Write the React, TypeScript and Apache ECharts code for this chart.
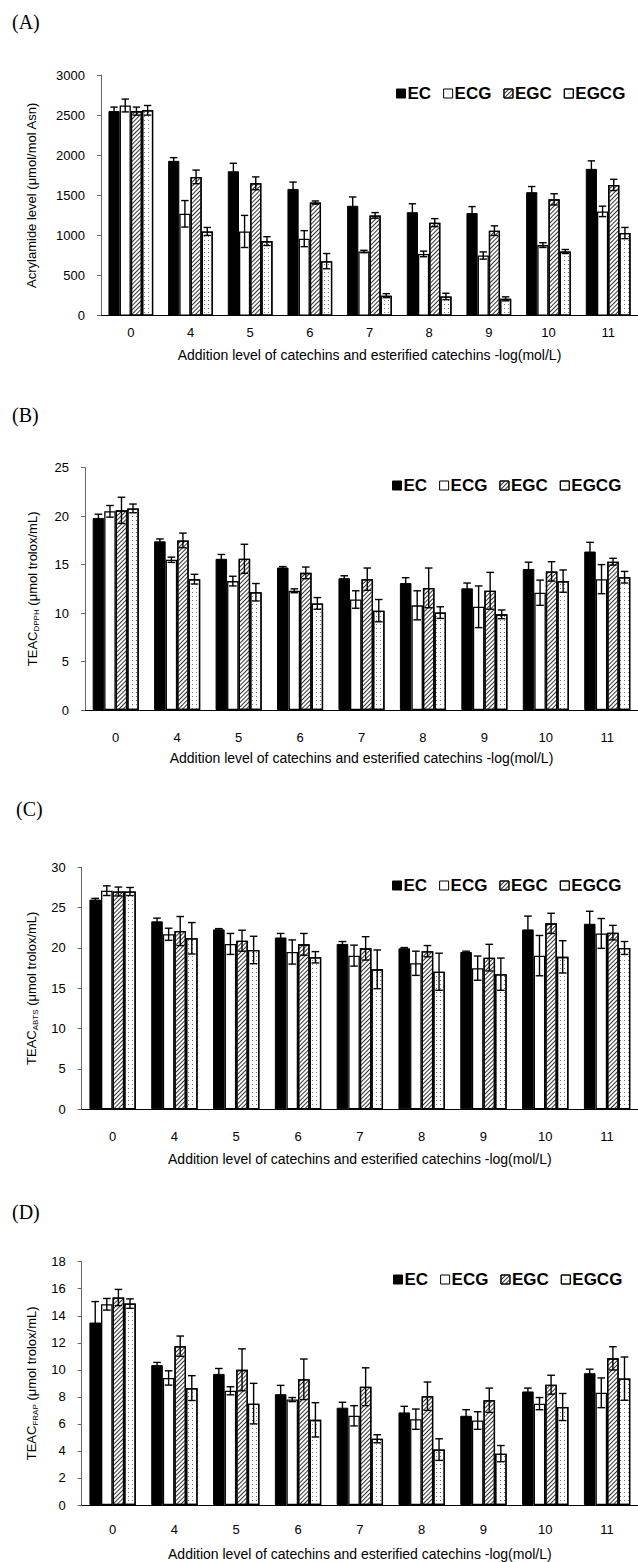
import React, { useEffect, useRef } from 'react';
import * as echarts from 'echarts';

const categories = ['0', '4', '5', '6', '7', '8', '9', '10', '11'];
const seriesNames = ['EC', 'ECG', 'EGC', 'EGCG'];
const panelLabels = ['(A)', '(B)', '(C)', '(D)'];
const xAxisTitle = 'Addition level of catechins and esterified catechins -log(mol/L)';
const yAxisTitles = [
  'Acrylamide level (μmol/mol Asn)',
  '{m|TEAC}{s|DPPH}{m| (μmol trolox/mL)}',
  '{m|TEAC}{s|ABTS}{m| (μmol trolox/mL)}',
  '{m|TEAC}{s|FRAP}{m| (μmol trolox/mL)}',
];
const yMax = [3000, 25, 30, 18];
const yInterval = [500, 5, 5, 2];

// (A) Acrylamide level
const acrylEC = [2550, 1930, 1800, 1580, 1370, 1290, 1280, 1540, 1830];
const acrylECErr = [50, 40, 100, 85, 110, 105, 80, 70, 100];
const acrylECG = [2620, 1270, 1050, 960, 800, 770, 750, 880, 1300];
const acrylECGErr = [80, 165, 200, 100, 15, 35, 45, 30, 65];
const acrylEGC = [2550, 1730, 1650, 1410, 1250, 1160, 1060, 1450, 1630];
const acrylEGCErr = [50, 85, 80, 20, 35, 50, 60, 70, 70];
const acrylEGCG = [2560, 1050, 930, 680, 250, 240, 210, 800, 1030];
const acrylEGCGErr = [60, 50, 55, 95, 25, 40, 25, 25, 70];

// (B) TEAC DPPH
const dpphEC = [19.8, 17.4, 15.6, 14.7, 13.6, 13.1, 12.55, 14.55, 16.35];
const dpphECErr = [0.4, 0.25, 0.45, 0.1, 0.25, 0.55, 0.55, 0.7, 0.95];
const dpphECG = [20.5, 15.5, 13.3, 12.3, 11.4, 10.8, 10.65, 12.1, 13.5];
const dpphECGErr = [0.6, 0.27, 0.5, 0.2, 0.9, 1.5, 2.15, 1.3, 1.5];
const dpphEGC = [20.6, 17.5, 15.6, 14.15, 13.5, 12.6, 12.3, 14.3, 15.3];
const dpphEGCErr = [1.35, 0.75, 1.5, 0.6, 1.15, 2.05, 1.9, 1.0, 0.35];
const dpphEGCG = [20.8, 13.5, 12.15, 11.0, 10.25, 10.05, 9.87, 13.3, 13.7];
const dpphEGCGErr = [0.45, 0.5, 0.9, 0.6, 1.15, 0.6, 0.45, 1.15, 0.6];

// (C) TEAC ABTS
const abtsEC = [26.0, 23.3, 22.3, 21.3, 20.5, 19.95, 19.5, 22.3, 23.0];
const abtsECErr = [0.15, 0.4, 0.1, 0.5, 0.3, 0.1, 0.1, 1.65, 1.55];
const abtsECG = [27.1, 21.7, 20.5, 19.5, 19.05, 18.1, 17.5, 19.05, 21.8];
const abtsECGErr = [0.6, 0.75, 1.3, 1.5, 1.3, 1.5, 1.5, 2.5, 1.85];
const abtsEGC = [27.0, 22.1, 20.9, 20.45, 19.95, 19.6, 18.8, 23.05, 21.9];
const abtsEGCErr = [0.55, 1.8, 1.3, 1.35, 1.45, 0.7, 1.65, 1.25, 0.9];
const abtsEGCG = [27.0, 21.2, 19.75, 18.85, 17.35, 17.05, 16.75, 18.9, 20.0];
const abtsEGCGErr = [0.5, 1.95, 1.7, 0.7, 2.4, 2.3, 2.0, 2.0, 0.8];

// (D) TEAC FRAP
const frapEC = [13.5, 10.35, 9.7, 8.2, 7.2, 6.85, 6.6, 8.4, 9.75];
const frapECErr = [1.55, 0.2, 0.4, 0.65, 0.4, 0.45, 0.45, 0.25, 0.3];
const frapECG = [14.85, 9.4, 8.45, 7.8, 6.6, 6.35, 6.25, 7.5, 8.3];
const frapECGErr = [0.43, 0.53, 0.3, 0.15, 0.75, 0.75, 0.65, 0.45, 1.1];
const frapEGC = [15.35, 11.75, 10.0, 9.3, 8.75, 8.05, 7.75, 8.9, 10.85];
const frapEGCErr = [0.6, 0.75, 1.55, 1.5, 1.4, 1.05, 0.9, 0.7, 0.86];
const frapEGCG = [14.9, 8.65, 7.5, 6.3, 4.9, 4.1, 3.8, 7.25, 9.35];
const frapEGCGErr = [0.35, 0.92, 1.5, 1.27, 0.3, 0.8, 0.6, 1.0, 1.6];

const panelValues = [
  [acrylEC, acrylECG, acrylEGC, acrylEGCG],
  [dpphEC, dpphECG, dpphEGC, dpphEGCG],
  [abtsEC, abtsECG, abtsEGC, abtsEGCG],
  [frapEC, frapECG, frapEGC, frapEGCG],
];
const panelErrors = [
  [acrylECErr, acrylECGErr, acrylEGCErr, acrylEGCGErr],
  [dpphECErr, dpphECGErr, dpphEGCErr, dpphEGCGErr],
  [abtsECErr, abtsECGErr, abtsEGCErr, abtsEGCGErr],
  [frapECErr, frapECGErr, frapEGCErr, frapEGCGErr],
];

// layout (pixels)
const grids = [
  { left: 101, top: 75, width: 541, height: 240.7 },
  { left: 85, top: 467.7, width: 557, height: 242.3 },
  { left: 81.7, top: 867.3, width: 561, height: 242 },
  { left: 81.7, top: 1261.7, width: 561, height: 243.3 },
];
const yNameGap = [63, 45, 42, 42];
const xLabelMargin = [10, 21, 21, 18];
const xNameGap = [32, 41, 43, 42];
const legendPos = [
  { left: 396, top: 85 },
  { left: 392, top: 477 },
  { left: 392, top: 877 },
  { left: 393, top: 1271 },
];
const labelPos = [
  { left: 12, top: 12 },
  { left: 12, top: 405 },
  { left: 16, top: 799 },
  { left: 12, top: 1202 },
];

const FONT = '"Liberation Sans", Arial, sans-serif';

const barStyles: any[] = [
  { color: '#000', borderColor: '#000', borderWidth: 1 },
  { color: '#fff', borderColor: '#000', borderWidth: 1.3 },
  {
    color: '#fff', borderColor: '#000', borderWidth: 1.3,
    decal: { symbol: 'rect', symbolSize: 1, color: '#333', dashArrayX: [1, 0], dashArrayY: [1, 2], rotation: -Math.PI / 4 },
  },
  {
    color: '#fff', borderColor: '#000', borderWidth: 1.3,
    decal: { symbol: 'rect', symbolSize: 1, color: '#777', dashArrayX: [1, 3], dashArrayY: [1, 3], rotation: 0 },
  },
];

function buildOption() {
  const series: any[] = [];
  const xAxis: any[] = [];
  const yAxis: any[] = [];
  const legend: any[] = [];
  const graphic: any[] = [];

  grids.forEach((g, p) => {
    xAxis.push({
      type: 'category',
      gridIndex: p,
      data: categories,
      axisLine: { lineStyle: { color: '#000', width: 1 } },
      axisTick: { inside: true, length: 4, lineStyle: { color: '#000' } },
      axisLabel: { fontFamily: FONT, fontSize: 13, color: '#000', margin: xLabelMargin[p] },
      name: xAxisTitle,
      nameLocation: 'middle',
      nameGap: xNameGap[p],
      nameTextStyle: { fontFamily: FONT, fontSize: 14, color: '#000' },
    });
    yAxis.push({
      type: 'value',
      gridIndex: p,
      min: 0,
      max: yMax[p],
      interval: yInterval[p],
      splitLine: { show: false },
      axisLine: { show: true, lineStyle: { color: '#666', width: 1 } },
      axisTick: { show: true, length: 4, lineStyle: { color: '#666' } },
      axisLabel: {
        fontFamily: FONT, fontSize: 13, color: '#000', margin: 16,
        formatter: (v: number) => String(v),
      },
      name: yAxisTitles[p],
      nameLocation: 'middle',
      nameGap: yNameGap[p],
      nameTextStyle: {
        fontFamily: FONT, fontSize: 13, color: '#000',
        rich: {
          m: { fontFamily: FONT, fontSize: 13, color: '#000', lineHeight: 16 },
          s: { fontFamily: FONT, fontSize: 8, color: '#000', lineHeight: 10, verticalAlign: 'bottom', padding: [5, 0, 0, 0] },
        },
      },
    });
    legend.push({
      data: seriesNames,
      left: legendPos[p].left,
      top: legendPos[p].top,
      width: 400,
      orient: 'horizontal',
      icon: 'rect',
      itemWidth: 9,
      itemHeight: 9,
      itemGap: 12,
      padding: 0,
      selectedMode: false,
      itemStyle: { borderColor: '#000', borderWidth: 1 },
      textStyle: { fontFamily: FONT, fontSize: 17, fontWeight: 'bold', color: '#000', padding: [0, 0, 0, -3] },
    });
    graphic.push({
      type: 'text',
      left: labelPos[p].left,
      top: labelPos[p].top,
      style: { text: panelLabels[p], font: '20px "Liberation Serif", "Times New Roman", serif', fill: '#000' },
    });

    seriesNames.forEach((name, s) => {
      series.push({
        type: 'bar',
        name,
        xAxisIndex: p,
        yAxisIndex: p,
        data: panelValues[p][s],
        barGap: '0%',
        barCategoryGap: '25%',
        itemStyle: barStyles[s],
        emphasis: { disabled: true },
        silent: true,
      });
    });

    const errData: any[] = [];
    for (let s = 0; s < 4; s++) {
      for (let c = 0; c < categories.length; c++) {
        errData.push([c, panelValues[p][s][c], panelErrors[p][s][c], s]);
      }
    }
    series.push({
      type: 'custom',
      name: 'err' + p,
      xAxisIndex: p,
      yAxisIndex: p,
      z: 10,
      silent: true,
      encode: { x: 0, y: 1 },
      data: errData,
      renderItem: (params: any, api: any) => {
        const c = api.value(0);
        const v = api.value(1);
        const e = api.value(2);
        const s = api.value(3);
        const band = api.size([1, 0])[0];
        const bw = (band * 0.75) / 4;
        const ctr = api.coord([c, v]);
        const x = ctr[0] + (s - 1.5) * bw;
        const top = api.coord([c, v + e])[1];
        const bot = api.coord([c, v - e])[1];
        const cap = bw * 0.33;
        const st = { stroke: '#000', lineWidth: 1.4 };
        return {
          type: 'group',
          children: [
            { type: 'line', shape: { x1: x, y1: top, x2: x, y2: bot }, style: st },
            { type: 'line', shape: { x1: x - cap, y1: top, x2: x + cap, y2: top }, style: st },
            { type: 'line', shape: { x1: x - cap, y1: bot, x2: x + cap, y2: bot }, style: st },
          ],
        };
      },
    });
  });

  return {
    animation: false,
    backgroundColor: '#fff',
    grid: grids.map((g) => ({ ...g, containLabel: false })),
    xAxis,
    yAxis,
    legend,
    graphic,
    series,
  };
}

export default function App() {
  const ref = useRef<HTMLDivElement>(null);
  useEffect(() => {
    document.body.style.margin = '0';
    if (!ref.current) return;
    const chart = echarts.init(ref.current, undefined, { renderer: 'svg' });
    chart.setOption(buildOption() as any);
    return () => chart.dispose();
  }, []);
  return <div ref={ref} style={{ width: 638, height: 1562, background: '#fff' }} />;
}
